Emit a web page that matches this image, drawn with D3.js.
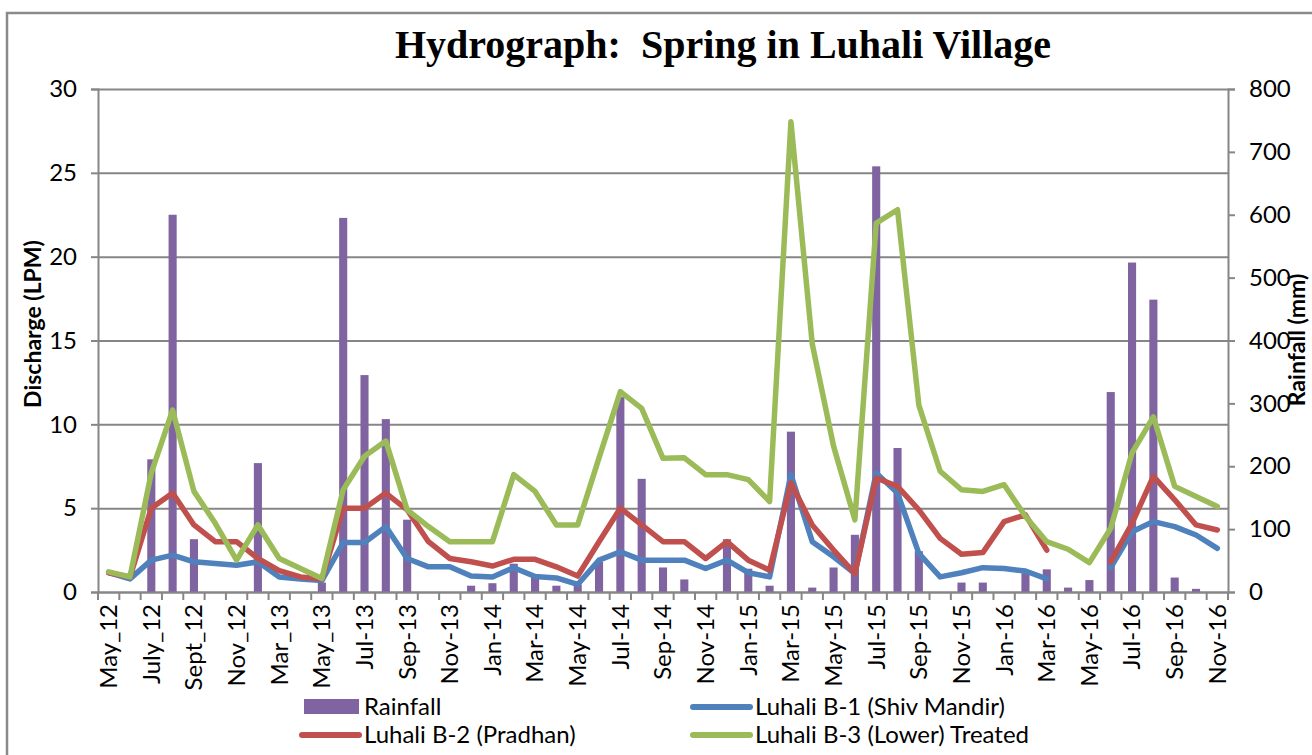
<!DOCTYPE html>
<html>
<meta charset="utf-8">
<style>
body {
	margin: 0;
	background: #fff;
}

#hydro {
	display: block;
	background-color: #fff;
}

.axis text {
	font-family: Lato, "Open Sans", sans-serif;
	font-size: 24px;
	fill: #000;
}

.axis path, .axis line {
	stroke: #868686;
	stroke-width: 2;
}

.grid line {
	stroke: #868686;
	stroke-width: 2;
}

.grid path {
	display: none;
}

.bar {
	fill: #8064a2;
}

.legend text {
	font-family: Lato, "Open Sans", sans-serif;
	font-size: 24px;
	fill: #000;
}
</style>

<body>
<svg id="hydro" width="1312" height="755"></svg>

<script src="https://d3js.org/d3.v7.min.js"></script>

<script>
// months on the x axis (only every other one is labelled in the chart)
var months = ["May_12", "June_12", "July_12", "Aug_12", "Sept_12", "Oct_12", "Nov_12", "Jan_13", "Mar_13", "Apr_13",
	"May_13", "Jun-13", "Jul-13", "Aug-13", "Sep-13", "Oct-13", "Nov-13", "Dec-13", "Jan-14", "Feb-14",
	"Mar-14", "Apr-14", "May-14", "Jun-14", "Jul-14", "Aug-14", "Sep-14", "Oct-14", "Nov-14", "Dec-14",
	"Jan-15", "Feb-15", "Mar-15", "Apr-15", "May-15", "Jun-15", "Jul-15", "Aug-15", "Sep-15", "Oct-15",
	"Nov-15", "Dec-15", "Jan-16", "Feb-16", "Mar-16", "Apr-16", "May-16", "Jun-16", "Jul-16", "Aug-16",
	"Sep-16", "Oct-16", "Nov-16"];

// rainfall (mm), right axis
var rainfall = [0, 0, 211, 600, 84, 0, 0, 205, 0, 0, 15,
	595, 345, 275, 115, 0, 0, 10, 14, 45, 25, 10, 12,
	48, 310, 180, 39, 20, 0, 84, 37, 10, 255, 7, 39,
	91, 677, 229, 65, 0, 15, 15, 0, 30, 36, 7, 19,
	318, 524, 465, 23, 5, 0];

// discharge (LPM), left axis
var b1 = [1.15, 0.78, 1.9, 2.2, 1.8, 1.7, 1.6, 1.8, 0.9, 0.78, 0.68,
	2.95, 2.95, 3.9, 2.0, 1.5, 1.5, 0.95, 0.9, 1.45, 0.92, 0.84, 0.45,
	1.9, 2.4, 1.9, 1.9, 1.9, 1.4, 1.9, 1.15, 0.9, 7.0, 3.0, 2.1,
	1.1, 7.1, 5.9, 2.3, 0.9, 1.15, 1.45, 1.4, 1.25, 0.78, null, null,
	1.45, 3.6, 4.2, 3.9, 3.4, 2.6];

var b2 = [1.15, 0.9, 5.0, 5.9, 4.0, 3.0, 3.0, 2.0, 1.27, 0.9, 0.78,
	5.0, 5.0, 5.9, 4.9, 3.0, 2.0, 1.8, 1.55, 1.95, 1.95, 1.5, 0.95,
	3.0, 5.0, 4.0, 3.0, 3.0, 2.0, 3.0, 1.9, 1.3, 6.5, 4.0, 2.5,
	1.1, 6.8, 6.3, 4.9, 3.2, 2.25, 2.35, 4.2, 4.6, 2.5, null, null,
	1.8, 4.1, 6.9, 5.5, 4.0, 3.7];

var b3 = [1.2, 0.9, 7.1, 10.85, 6.0, 4.1, 1.9, 4.0, 2.0, 1.4, 0.8,
	6.1, 8.1, 9.0, 4.9, 3.9, 3.0, 3.0, 3.0, 7.0, 6.0, 4.0, 4.0,
	8.0, 11.95, 10.95, 7.97, 8.0, 7.0, 7.0, 6.7, 5.4, 28.05, 14.8, 8.7,
	4.3, 22.0, 22.8, 11.15, 7.2, 6.1, 6.0, 6.4, 4.5, 3.0, 2.55, 1.75,
	3.8, 8.3, 10.45, 6.3, 5.7, 5.1];

var leftTicks = [0, 5, 10, 15, 20, 25, 30];
var rightTicks = [0, 100, 200, 300, 400, 500, 600, 700, 800];

var series = [
	{name: "Luhali B-1 (Shiv Mandir)", values: b1, color: "#4f81bd"},
	{name: "Luhali B-2 (Pradhan)", values: b2, color: "#c0504d"},
	{name: "Luhali B-3 (Lower) Treated", values: b3, color: "#9bbb59"}
];

var margin = {top: 89, right: 84, bottom: 163, left: 98};
var width = 1312 - margin.left - margin.right;
var height = 755 - margin.top - margin.bottom;

var svg = d3.select("#hydro");

// outer chart frame
svg.append("rect")
	.attr("x", 7)
	.attr("y", 13)
	.attr("width", 1330)
	.attr("height", 780)
	.attr("fill", "none")
	.attr("stroke", "#8a8a8a")
	.attr("stroke-width", 2.5);

svg.append("text")
	.attr("x", 723)
	.attr("y", 58)
	.attr("text-anchor", "middle")
	.style("font-family", "'Liberation Serif', 'Times New Roman', serif")
	.style("font-weight", "bold")
	.style("font-size", "40px")
	.attr("xml:space", "preserve")
	.text("Hydrograph:  Spring in Luhali Village");

var g = svg.append("g")
	.attr("transform", "translate(" + margin.left + "," + margin.top + ")");

var x = d3.scaleBand()
	.domain(months)
	.range([0, width]);

var yL = d3.scaleLinear()
	.domain([0, 30])
	.range([height, 0]);

var yR = d3.scaleLinear()
	.domain([0, 800])
	.range([height, 0]);

// horizontal gridlines
g.append("g")
	.attr("class", "grid")
	.call(d3.axisLeft(yL).tickValues(leftTicks).tickSize(-width).tickFormat(""));

// rainfall bars
var barW = x.bandwidth() * 0.38;
g.selectAll(".bar")
	.data(rainfall)
	.enter().append("rect")
	.attr("class", "bar")
	.attr("x", function(d, i) { return x(months[i]) + (x.bandwidth() - barW) / 2; })
	.attr("y", function(d) { return yR(d); })
	.attr("width", barW)
	.attr("height", function(d) { return height - yR(d); });

// discharge lines
var line = d3.line()
	.defined(function(d) { return d != null; })
	.x(function(d, i) { return x(months[i]) + x.bandwidth() / 2; })
	.y(function(d) { return yL(d); });

g.selectAll(".series")
	.data(series)
	.enter().append("path")
	.attr("class", "series")
	.attr("fill", "none")
	.attr("stroke", function(d) { return d.color; })
	.attr("stroke-width", 5.5)
	.attr("stroke-linejoin", "round")
	.attr("stroke-linecap", "round")
	.attr("d", function(d) { return line(d.values); });

// left axis
g.append("g")
	.attr("class", "axis")
	.call(d3.axisLeft(yL).tickValues(leftTicks).tickSize(7).tickPadding(14));

// right axis
g.append("g")
	.attr("class", "axis")
	.attr("transform", "translate(" + width + ",0)")
	.call(d3.axisRight(yR).tickValues(rightTicks).tickSize(7).tickPadding(14));

// x axis: labels on every other month, tick marks on category boundaries
var xAxis = g.append("g")
	.attr("class", "axis")
	.attr("transform", "translate(0," + height + ")")
	.call(d3.axisBottom(x)
		.tickValues(months.filter(function(d, i) { return i % 2 == 0; }))
		.tickSize(0)
		.tickSizeOuter(0));

xAxis.selectAll("text")
	.attr("transform", "rotate(-90)")
	.attr("text-anchor", "end")
	.attr("x", -12)
	.attr("y", 0)
	.attr("dy", "0.35em");

xAxis.selectAll(".bound")
	.data(months.concat(["end"]))
	.enter().append("line")
	.attr("class", "bound")
	.attr("x1", function(d, i) { return i * x.step(); })
	.attr("x2", function(d, i) { return i * x.step(); })
	.attr("y1", 0)
	.attr("y2", 8);

// axis titles
svg.append("text")
	.attr("transform", "translate(41,324) rotate(-90)")
	.attr("text-anchor", "middle")
	.style("font-family", "Lato, sans-serif")
	.style("font-weight", "bold")
	.style("font-size", "23px")
	.text("Discharge (LPM)");

svg.append("text")
	.attr("transform", "translate(1305,340) rotate(-90)")
	.attr("text-anchor", "middle")
	.style("font-family", "Lato, sans-serif")
	.style("font-weight", "bold")
	.style("font-size", "23px")
	.text("Rainfall (mm)");

// legend
var legend = svg.append("g").attr("class", "legend");

legend.append("rect")
	.attr("x", 304)
	.attr("y", 699)
	.attr("width", 55)
	.attr("height", 15)
	.attr("fill", "#8064a2");

legend.append("text")
	.attr("x", 364)
	.attr("y", 707)
	.attr("dy", "0.35em")
	.text("Rainfall");

var legendPos = [[693, 707], [302, 735], [693, 735]];

series.forEach(function(s, i) {
	var p = legendPos[i];
	legend.append("line")
		.attr("x1", p[0])
		.attr("x2", p[0] + 57)
		.attr("y1", p[1])
		.attr("y2", p[1])
		.attr("stroke", s.color)
		.attr("stroke-width", 6)
		.attr("stroke-linecap", "round");
	legend.append("text")
		.attr("x", p[0] + 62)
		.attr("y", p[1])
		.attr("dy", "0.35em")
		.text(s.name);
});
</script>
</body>
</html>
